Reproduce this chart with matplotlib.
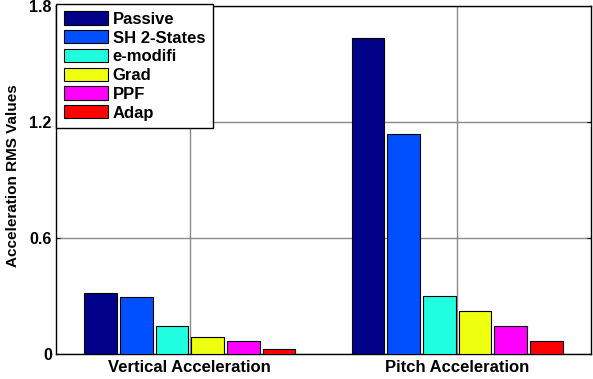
import numpy as np
import matplotlib
matplotlib.use('Agg')
import matplotlib.pyplot as plt

categories = ['Vertical Acceleration', 'Pitch Acceleration']
series_names = ['Passive', 'SH 2-States', 'e-modifi', 'Grad', 'PPF', 'Adap']
passive = [0.318, 1.634]
sh_2states = [0.296, 1.140]
e_modifi = [0.146, 0.298]
grad = [0.088, 0.222]
ppf = [0.066, 0.143]
adap = [0.026, 0.066]
colors = ['#000088', '#0050ff', '#20ffe0', '#eeff10', '#ff00ff', '#ff0000']

plt.rcParams['font.family'] = ['Liberation Sans', 'DejaVu Sans']
plt.rcParams['font.weight'] = 'bold'

fig = plt.figure(figsize=(5.93, 3.79), dpi=100)
ax = fig.add_axes([56/593, 1 - 354/379, (591-56)/593, (354-6)/379])

values = [passive, sh_2states, e_modifi, grad, ppf, adap]
x = np.arange(1, len(categories) + 1)
slot = 0.8 / len(values)
for i, (name, vals) in enumerate(zip(series_names, values)):
    offs = (i - (len(values) - 1) / 2) * slot
    ax.bar(x + offs, vals, width=slot * 0.92, color=colors[i],
           edgecolor='black', linewidth=0.8, label=name, zorder=3)

ax.set_xlim(0.5, 2.5)
ax.set_ylim(0, 1.8)
ax.set_yticks([0, 0.6, 1.2, 1.8])
ax.set_yticklabels(['0', '0.6', '1.2', '1.8'], fontsize=11.5, fontweight='bold')
ax.set_xticks(x)
ax.set_xticklabels(categories, fontsize=12, fontweight='bold')
ax.set_ylabel('Acceleration RMS Values', fontsize=11, fontweight='bold')
ax.yaxis.set_label_coords(-0.067, 0.514)
ax.grid(True, color='#8a8a8a', linestyle='-', linewidth=1, zorder=0)
ax.tick_params(direction='in', right=True, top=True, length=3, pad=3)
ax.tick_params(axis='x', length=0, pad=4)
for s in ax.spines.values():
    s.set_linewidth(1)

leg = ax.legend(loc='upper left', bbox_to_anchor=(0, 1.006),
                prop={'weight': 'bold', 'size': 12}, fancybox=False,
                edgecolor='black', framealpha=1, handlelength=2.65,
                handleheight=0.85, labelspacing=0.2, borderaxespad=0,
                handletextpad=0.3, borderpad=0.45)
leg.get_frame().set_linewidth(1)
leg.set_zorder(5)

fig.savefig('out.png', dpi=100)
